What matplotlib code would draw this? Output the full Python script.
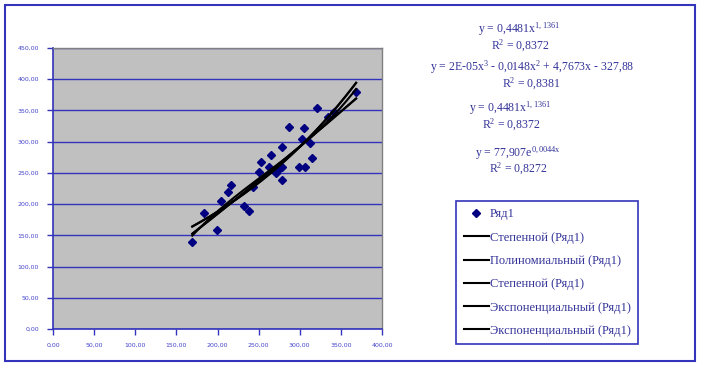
import numpy as np
import matplotlib
matplotlib.use("Agg")
import matplotlib.pyplot as plt
from matplotlib.patches import Rectangle
from matplotlib.lines import Line2D
from matplotlib.ticker import FuncFormatter, MultipleLocator

# ---- data ----
x_vals = [169.3, 183.0, 199.6, 204.4, 213.3, 216.6, 232.3, 238.4, 243.6, 250.5,
          253.3, 262.6, 265.5, 271.5, 278.4, 278.8, 278.4, 286.9, 299.0, 306.3,
          303.0, 305.0, 312.3, 314.7, 320.8, 334.5, 341.8, 368.5, 273.0]
y_vals = [139.8, 185.8, 159.0, 205.5, 220.0, 230.6, 197.5, 189.5, 226.9, 252.0,
          268.0, 259.0, 279.2, 249.8, 292.0, 259.4, 239.2, 324.0, 260.0, 260.0,
          304.8, 322.0, 297.9, 274.4, 354.0, 340.0, 348.0, 379.6, 254.0]
power_coef = [0.4481, 1.1361]
exp_coef = [77.907, 0.0044]
legend_labels = ["Ряд1", "Степенной (Ряд1)", "Полиномиальный (Ряд1)", "Степенной (Ряд1)",
                 "Экспоненциальный (Ряд1)", "Экспоненциальный (Ряд1)"]
eq_texts = [("y = 0,4481x$^{1,1361}$", "R$^{2}$ = 0,8372"),
            ("y = 2E-05x$^{3}$ - 0,0148x$^{2}$ + 4,7673x - 327,88", "R$^{2}$ = 0,8381"),
            ("y = 0,4481x$^{1,1361}$", "R$^{2}$ = 0,8372"),
            ("y = 77,907e$^{0,0044x}$", "R$^{2}$ = 0,8272")]

# ---- style ----
W, H = 702, 367
BLUE = "#3333bb"
TXT = "#333399"
plt.rcParams["mathtext.fontset"] = "custom"
plt.rcParams["mathtext.rm"] = "Liberation Serif"
plt.rcParams["mathtext.it"] = "Liberation Serif"
plt.rcParams["mathtext.default"] = "regular"

fig = plt.figure(figsize=(W / 100, H / 100), dpi=100)
fig.patch.set_facecolor("white")

def fx(px):
    return px / W

def fy(py):
    return 1 - py / H

# outer border
fig.patches.append(Rectangle((fx(5), fy(361)), fx(695) - fx(5), fy(5) - fy(361),
                             transform=fig.transFigure, fill=False, edgecolor=BLUE, lw=1.5))

left, right, top, bottom = 53, 382, 48, 329
ax = fig.add_axes([fx(left), fy(bottom), fx(right) - fx(left), fy(top) - fy(bottom)])
ax.set_facecolor("#c0c0c0")
ax.set_xlim(0, 400)
ax.set_ylim(0, 450)
ax.xaxis.set_major_locator(MultipleLocator(50))
ax.yaxis.set_major_locator(MultipleLocator(50))
fmt = FuncFormatter(lambda v, p: f"{v:.2f}".replace(".", ","))
ax.xaxis.set_major_formatter(fmt)
ax.yaxis.set_major_formatter(fmt)
ax.tick_params(axis="both", direction="out", length=4, width=1, color=BLUE,
               labelsize=4.5, labelcolor="#4444cc", pad=6)
for s in ("left", "bottom"):
    ax.spines[s].set_color(BLUE)
    ax.spines[s].set_linewidth(1.2)
for s in ("top", "right"):
    ax.spines[s].set_color("#808080")
    ax.spines[s].set_linewidth(1.0)
ax.grid(axis="y", color=BLUE, lw=1.0)
ax.set_axisbelow(True)

xa = np.array(x_vals)
ya = np.array(y_vals)
xs = np.linspace(xa.min(), xa.max(), 200)
pow_y = power_coef[0] * xs ** power_coef[1]
exp_y = exp_coef[0] * np.exp(exp_coef[1] * xs)
poly_y = np.polyval(np.polyfit(xa, ya, 3), xs)

ax.plot(xa, ya, linestyle="none", marker="D", ms=4, color="#000080", zorder=3)
for yy in (pow_y, poly_y, pow_y, exp_y, exp_y):
    ax.plot(xs, yy, color="black", lw=1.5, zorder=4)

# equation labels
serif = ["Liberation Serif", "DejaVu Serif"]
eq_pos = [((519, 29), (520, 46)), ((532, 67), (531, 84)),
          ((510, 108), (511, 125)), ((518, 153), (518, 169))]
for (t1, t2), ((x1, y1), (x2, y2)) in zip(eq_texts, eq_pos):
    fig.text(fx(x1), fy(y1), t1, ha="center", va="center", family=serif, fontsize=8.5, color=TXT)
    fig.text(fx(x2), fy(y2), t2, ha="center", va="center", family=serif, fontsize=8.5, color=TXT)

# legend
handles = [Line2D([], [], linestyle="none", marker="D", ms=4, color="#000080")] + \
          [Line2D([], [], color="black", lw=1.5) for _ in range(5)]
leg = fig.legend(handles, legend_labels, loc="upper left",
                 bbox_to_anchor=(fx(456), fy(201)), bbox_transform=fig.transFigure,
                 prop={"family": "Liberation Serif", "size": 9},
                 frameon=True, fancybox=False, edgecolor=BLUE, facecolor="white",
                 framealpha=1, labelspacing=0.9, handlelength=2.0, handletextpad=0.1,
                 borderpad=0.6, borderaxespad=0, labelcolor=TXT)
leg.get_frame().set_linewidth(1.2)

fig.savefig("out.png", dpi=100, facecolor="white")
